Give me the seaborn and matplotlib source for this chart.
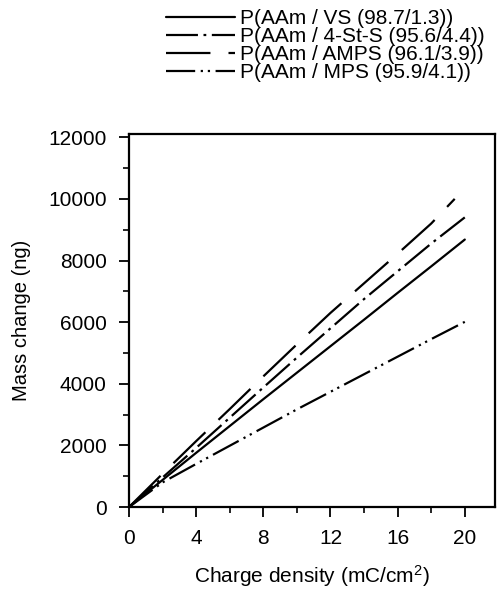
import matplotlib
matplotlib.use("Agg")
import matplotlib.pyplot as plt
from matplotlib.ticker import MultipleLocator
import seaborn as sns
import pandas as pd

# ---- data ----
x_vs = [0, 2, 4, 6, 8, 10, 12, 14, 16, 18, 20]
y_vs = [0, 880, 1760, 2630, 3500, 4360, 5220, 6080, 6950, 7810, 8680]

x_sts = [0, 2, 4, 6, 8, 10, 12, 14, 16, 18, 20]
y_sts = [0, 960, 1920, 2900, 3880, 4850, 5800, 6750, 7650, 8550, 9400]

x_amps = [0, 2, 4, 6, 8, 10, 12, 14, 16, 18, 19.4]
y_amps = [0, 1080, 2140, 3180, 4240, 5280, 6300, 7260, 8220, 9200, 10000]

x_mps = [0, 2, 4, 6, 8, 10, 12, 14, 16, 18, 20]
y_mps = [0, 800, 1400, 1990, 2580, 3170, 3740, 4310, 4880, 5450, 6010]

labels = ["P(AAm / VS (98.7/1.3))",
          "P(AAm / 4-St-S (95.6/4.4))",
          "P(AAm / AMPS (96.1/3.9))",
          "P(AAm / MPS (95.9/4.1))"]

xlabel = "Charge density (mC/cm$^{\\mathregular{2}}$)"
ylabel = "Mass change (ng)"

# ---- style ----
sns.set_style("ticks")
plt.rcParams["font.family"] = ["Liberation Sans", "DejaVu Sans"]
plt.rcParams["lines.scale_dashes"] = False
plt.rcParams["mathtext.default"] = "regular"
for key in ["text.color", "axes.labelcolor", "xtick.color", "ytick.color",
            "axes.edgecolor"]:
    plt.rcParams[key] = "black"

styles = ["-",
          (0, (23, 4, 2, 4)),
          (0, (32, 13)),
          (0, (21, 4, 1.6, 3.5, 1.6, 4))]

fig = plt.figure(figsize=(4.98, 5.91), dpi=100)
ax = fig.add_axes([0.259, 0.142, 0.735, 0.631])

series = [(x_vs, y_vs), (x_sts, y_sts), (x_amps, y_amps), (x_mps, y_mps)]
for (xs, ys), lab, ls in zip(series, labels, styles):
    df = pd.DataFrame({"x": xs, "y": ys})
    sns.lineplot(data=df, x="x", y="y", ax=ax, color="black", linewidth=1.6,
                 linestyle=ls, label=lab)

ax.set_xlim(0, 21.8)
ax.set_ylim(0, 12100)
ax.xaxis.set_major_locator(MultipleLocator(4))
ax.xaxis.set_minor_locator(MultipleLocator(2))
ax.yaxis.set_major_locator(MultipleLocator(2000))
ax.yaxis.set_minor_locator(MultipleLocator(1000))
ax.tick_params(axis="both", which="major", direction="out", length=7,
               width=1.3, labelsize=15, colors="black")
ax.tick_params(axis="x", which="major", pad=9)
ax.tick_params(axis="y", which="major", pad=9)
ax.tick_params(axis="both", which="minor", direction="out", length=4,
               width=1.2, colors="black")
for sp in ax.spines.values():
    sp.set_visible(True)
    sp.set_linewidth(1.6)
    sp.set_color("black")

ax.set_xlabel(xlabel, fontsize=15, labelpad=11)
ax.set_ylabel(ylabel, fontsize=14.5, labelpad=12)

leg = ax.legend(loc="upper left", bbox_to_anchor=(0.333, 0.984),
                bbox_transform=fig.transFigure, frameon=False, fontsize=15,
                handlelength=3.3, handletextpad=0.25, labelspacing=-0.05,
                borderpad=0, borderaxespad=0)
for t in leg.get_texts():
    t.set_color("black")

fig.savefig("out.png", dpi=100)
